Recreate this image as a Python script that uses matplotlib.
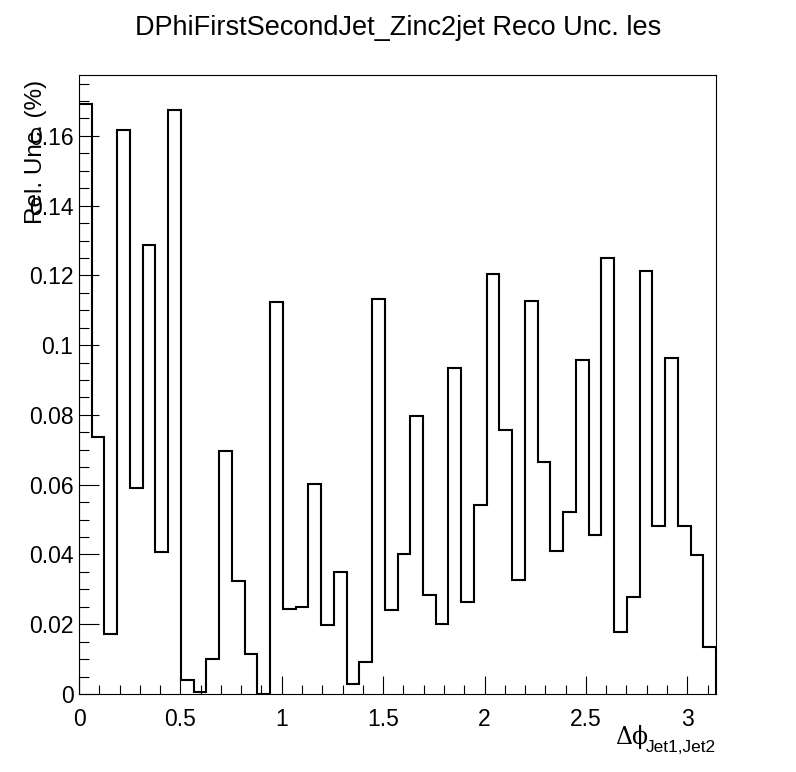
import numpy as np
import matplotlib
matplotlib.use("Agg")
import matplotlib.pyplot as plt
from matplotlib.ticker import MultipleLocator

# histogram: 50 bins over [0, pi]
n_bins = 50
x_min, x_max = 0.0, np.pi
rel_unc = [
    0.1690, 0.0738, 0.0173, 0.1617, 0.0591, 0.1288, 0.0406, 0.1673, 0.0040, 0.0006,
    0.0100, 0.0698, 0.0325, 0.0114, 0.0000, 0.1123, 0.0244, 0.0248, 0.0601, 0.0198,
    0.0349, 0.0029, 0.0092, 0.1132, 0.0241, 0.0402, 0.0797, 0.0283, 0.0201, 0.0935,
    0.0265, 0.0543, 0.1205, 0.0757, 0.0328, 0.1127, 0.0666, 0.0409, 0.0523, 0.0958,
    0.0455, 0.1250, 0.0179, 0.0278, 0.1214, 0.0481, 0.0964, 0.0481, 0.0398, 0.0134,
]
title = "DPhiFirstSecondJet_Zinc2jet Reco Unc. les"
y_title = "Rel. Unc. (%)"

edges = np.linspace(x_min, x_max, n_bins + 1)

plt.rcParams["font.family"] = ["Liberation Sans", "DejaVu Sans"]

fig = plt.figure(figsize=(7.96, 7.72), dpi=100)
ax = fig.add_axes([79 / 796, 78 / 772, 637 / 796, 619 / 772])

ax.stairs(rel_unc, edges, color="black", linewidth=1.5)

ax.set_xlim(x_min, x_max)
ax.set_ylim(0, 1.05 * max(rel_unc))

# ROOT-like ticks: inside, only left/bottom
ax.xaxis.set_major_locator(MultipleLocator(0.5))
ax.xaxis.set_minor_locator(MultipleLocator(0.1))
ax.yaxis.set_major_locator(MultipleLocator(0.02))
ax.yaxis.set_minor_locator(MultipleLocator(0.005))
ax.tick_params(which="both", direction="in", top=False, right=False, labelsize=16.5, width=0.8)
ax.tick_params(axis="x", which="major", length=13, pad=10)
ax.tick_params(axis="x", which="minor", length=6.5)
ax.tick_params(axis="y", which="major", length=14.5, pad=4)
ax.tick_params(axis="y", which="minor", length=7)
ax.set_xticks([0, 0.5, 1, 1.5, 2, 2.5, 3])
ax.set_xticklabels(["0", "0.5", "1", "1.5", "2", "2.5", "3"])
ax.set_yticks([0, 0.02, 0.04, 0.06, 0.08, 0.1, 0.12, 0.14, 0.16])
ax.set_yticklabels(["0", "0.02", "0.04", "0.06", "0.08", "0.1", "0.12", "0.14", "0.16"])
for s in ax.spines.values():
    s.set_linewidth(0.8)

fig.text(0.5, 1 - 28 / 772, title, ha="center", va="center", fontsize=19.5)

# y title, right-aligned to top of axis (overlaps labels like ROOT)
fig.text(36 / 796, 1 - 80 / 772, y_title, rotation=90, ha="center", va="top", fontsize=17.5)

# x title: Delta phi with subscript
fig.text(648 / 796, 1 - 744 / 772, "\u0394\u03d5", ha="right", va="baseline",
         fontsize=17, family=["DejaVu Serif"])
fig.text(716 / 796, 1 - 752 / 772, "Jet1,Jet2", ha="right", va="baseline", fontsize=12.5)

fig.savefig("out.png", dpi=100)
